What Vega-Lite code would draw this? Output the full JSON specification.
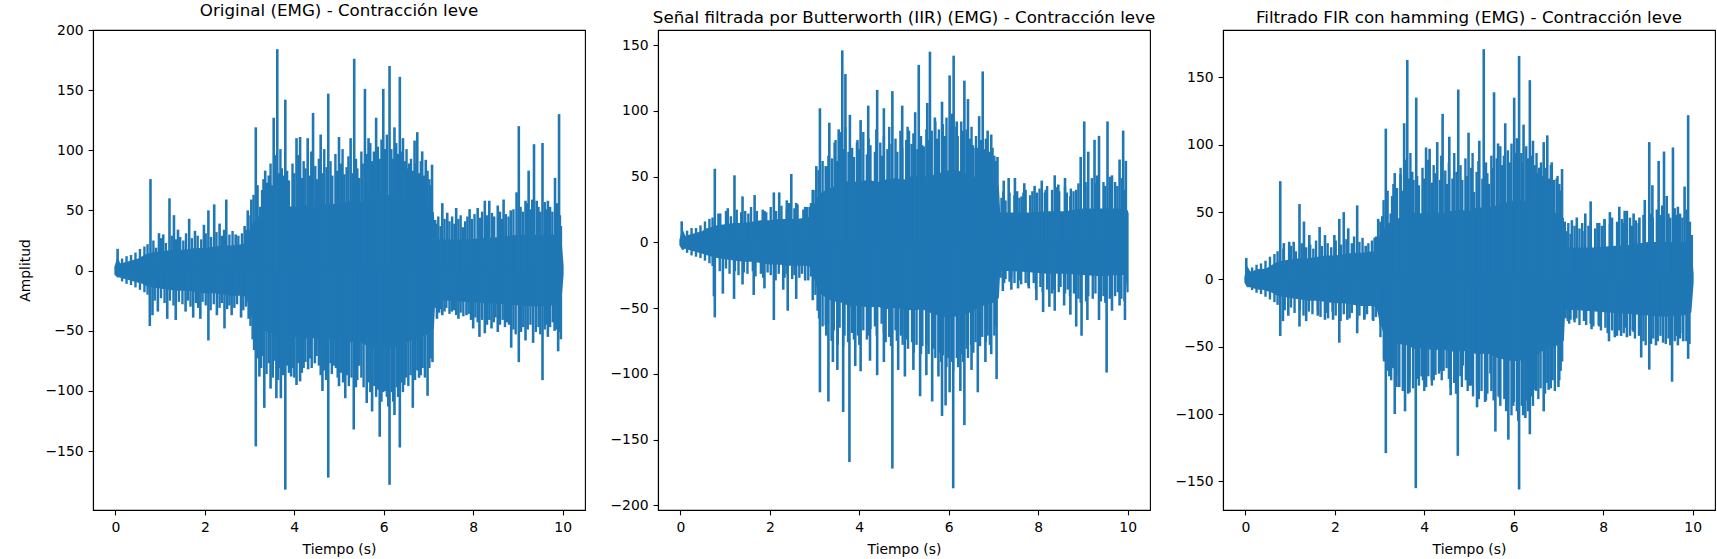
{
"$schema": "https://vega.github.io/schema/vega-lite/v6.json",
"padding": {"left": 18, "top": 2, "right": 0, "bottom": 0},
"bounds": "flush",
"spacing": 73,
"datasets": {
"c1": [{"t":0,"hi":3,"lo":-3},{"t":0.05,"hi":9,"lo":-5},{"t":0.1,"hi":5,"lo":-5},{"t":0.2,"hi":6,"lo":-6},{"t":0.3,"hi":7,"lo":-7},{"t":0.4,"hi":8,"lo":-8},{"t":0.5,"hi":9,"lo":-9},{"t":0.6,"hi":11,"lo":-10},{"t":0.7,"hi":13,"lo":-12},{"t":0.8,"hi":14,"lo":-13},{"t":1.0,"hi":15,"lo":-14},{"t":1.2,"hi":16,"lo":-15},{"t":1.4,"hi":16,"lo":-16},{"t":1.6,"hi":17,"lo":-16},{"t":1.8,"hi":18,"lo":-17},{"t":2.0,"hi":18,"lo":-18},{"t":2.2,"hi":19,"lo":-18},{"t":2.4,"hi":20,"lo":-19},{"t":2.6,"hi":20,"lo":-20},{"t":2.8,"hi":21,"lo":-20},{"t":2.95,"hi":22,"lo":-21},{"t":3.0,"hi":32,"lo":-30},{"t":3.1,"hi":40,"lo":-42},{"t":3.2,"hi":44,"lo":-46},{"t":3.4,"hi":47,"lo":-50},{"t":3.6,"hi":52,"lo":-52},{"t":3.8,"hi":53,"lo":-55},{"t":4.0,"hi":52,"lo":-54},{"t":4.2,"hi":54,"lo":-56},{"t":4.4,"hi":52,"lo":-55},{"t":4.6,"hi":54,"lo":-57},{"t":4.8,"hi":55,"lo":-56},{"t":5.0,"hi":54,"lo":-57},{"t":5.2,"hi":57,"lo":-59},{"t":5.4,"hi":56,"lo":-58},{"t":5.6,"hi":58,"lo":-61},{"t":5.8,"hi":60,"lo":-63},{"t":6.0,"hi":62,"lo":-65},{"t":6.2,"hi":62,"lo":-63},{"t":6.4,"hi":59,"lo":-62},{"t":6.6,"hi":56,"lo":-57},{"t":6.8,"hi":54,"lo":-54},{"t":7.0,"hi":52,"lo":-52},{"t":7.1,"hi":48,"lo":-48},{"t":7.13,"hi":25,"lo":-24},{"t":7.4,"hi":25,"lo":-24},{"t":7.8,"hi":25,"lo":-25},{"t":8.2,"hi":26,"lo":-26},{"t":8.6,"hi":27,"lo":-27},{"t":9.0,"hi":29,"lo":-28},{"t":9.4,"hi":29,"lo":-29},{"t":9.8,"hi":29,"lo":-28},{"t":9.95,"hi":27,"lo":-26},{"t":10.0,"hi":4,"lo":-3}],
"c2": [{"t":0,"hi":2,"lo":-2},{"t":0.05,"hi":8,"lo":-5},{"t":0.1,"hi":4,"lo":-4},{"t":0.2,"hi":5,"lo":-5},{"t":0.3,"hi":6,"lo":-6},{"t":0.4,"hi":7,"lo":-7},{"t":0.5,"hi":8,"lo":-8},{"t":0.6,"hi":10,"lo":-9},{"t":0.7,"hi":11,"lo":-10},{"t":0.8,"hi":12,"lo":-11},{"t":1.0,"hi":13,"lo":-12},{"t":1.2,"hi":14,"lo":-13},{"t":1.4,"hi":14,"lo":-14},{"t":1.6,"hi":15,"lo":-14},{"t":1.8,"hi":16,"lo":-15},{"t":2.0,"hi":16,"lo":-16},{"t":2.2,"hi":17,"lo":-16},{"t":2.4,"hi":17,"lo":-17},{"t":2.6,"hi":17,"lo":-17},{"t":2.8,"hi":18,"lo":-17},{"t":2.95,"hi":19,"lo":-18},{"t":3.0,"hi":28,"lo":-26},{"t":3.1,"hi":35,"lo":-37},{"t":3.2,"hi":38,"lo":-40},{"t":3.4,"hi":41,"lo":-44},{"t":3.6,"hi":45,"lo":-45},{"t":3.8,"hi":46,"lo":-48},{"t":4.0,"hi":45,"lo":-47},{"t":4.2,"hi":47,"lo":-49},{"t":4.4,"hi":45,"lo":-48},{"t":4.6,"hi":47,"lo":-50},{"t":4.8,"hi":48,"lo":-49},{"t":5.0,"hi":47,"lo":-50},{"t":5.2,"hi":50,"lo":-51},{"t":5.4,"hi":49,"lo":-50},{"t":5.6,"hi":50,"lo":-53},{"t":5.8,"hi":52,"lo":-55},{"t":6.0,"hi":54,"lo":-57},{"t":6.2,"hi":54,"lo":-55},{"t":6.4,"hi":51,"lo":-54},{"t":6.6,"hi":49,"lo":-50},{"t":6.8,"hi":47,"lo":-47},{"t":7.0,"hi":45,"lo":-45},{"t":7.1,"hi":42,"lo":-42},{"t":7.13,"hi":22,"lo":-21},{"t":7.4,"hi":22,"lo":-21},{"t":7.8,"hi":22,"lo":-22},{"t":8.2,"hi":23,"lo":-23},{"t":8.6,"hi":23,"lo":-23},{"t":9.0,"hi":25,"lo":-24},{"t":9.4,"hi":25,"lo":-25},{"t":9.8,"hi":25,"lo":-24},{"t":9.98,"hi":24,"lo":-24},{"t":10.0,"hi":22,"lo":-38}],
"c3": [{"t":0,"hi":2,"lo":-2},{"t":0.05,"hi":8,"lo":-5},{"t":0.1,"hi":5,"lo":-5},{"t":0.2,"hi":6,"lo":-6},{"t":0.3,"hi":7,"lo":-7},{"t":0.4,"hi":7,"lo":-7},{"t":0.5,"hi":8,"lo":-8},{"t":0.6,"hi":10,"lo":-9},{"t":0.7,"hi":12,"lo":-11},{"t":0.8,"hi":13,"lo":-12},{"t":1.0,"hi":14,"lo":-13},{"t":1.2,"hi":15,"lo":-14},{"t":1.4,"hi":15,"lo":-15},{"t":1.6,"hi":16,"lo":-15},{"t":1.8,"hi":17,"lo":-16},{"t":2.0,"hi":17,"lo":-17},{"t":2.2,"hi":18,"lo":-17},{"t":2.4,"hi":19,"lo":-18},{"t":2.6,"hi":19,"lo":-19},{"t":2.8,"hi":20,"lo":-19},{"t":2.95,"hi":20,"lo":-20},{"t":3.0,"hi":30,"lo":-28},{"t":3.1,"hi":37,"lo":-39},{"t":3.2,"hi":41,"lo":-43},{"t":3.4,"hi":44,"lo":-47},{"t":3.6,"hi":48,"lo":-48},{"t":3.8,"hi":49,"lo":-51},{"t":4.0,"hi":48,"lo":-50},{"t":4.2,"hi":50,"lo":-52},{"t":4.4,"hi":48,"lo":-51},{"t":4.6,"hi":50,"lo":-53},{"t":4.8,"hi":51,"lo":-52},{"t":5.0,"hi":50,"lo":-53},{"t":5.2,"hi":53,"lo":-55},{"t":5.4,"hi":52,"lo":-54},{"t":5.6,"hi":54,"lo":-57},{"t":5.8,"hi":56,"lo":-59},{"t":6.0,"hi":58,"lo":-60},{"t":6.2,"hi":58,"lo":-59},{"t":6.4,"hi":55,"lo":-58},{"t":6.6,"hi":52,"lo":-53},{"t":6.8,"hi":50,"lo":-50},{"t":7.0,"hi":48,"lo":-48},{"t":7.1,"hi":45,"lo":-45},{"t":7.13,"hi":23,"lo":-22},{"t":7.4,"hi":23,"lo":-22},{"t":7.8,"hi":23,"lo":-23},{"t":8.2,"hi":24,"lo":-24},{"t":8.6,"hi":25,"lo":-25},{"t":9.0,"hi":27,"lo":-26},{"t":9.4,"hi":27,"lo":-27},{"t":9.8,"hi":27,"lo":-26},{"t":9.95,"hi":25,"lo":-24},{"t":10.0,"hi":4,"lo":-2}],
"s1": [{"t":0.05,"v":17},{"t":0.785,"v":75},{"t":0.91,"v":18},{"t":0.975,"v":30},{"t":1.07,"v":29},{"t":1.21,"v":59},{"t":1.31,"v":45},{"t":1.4,"v":33},{"t":1.65,"v":42},{"t":1.78,"v":32},{"t":1.98,"v":37},{"t":2.08,"v":49},{"t":2.21,"v":54},{"t":2.33,"v":38},{"t":2.48,"v":58},{"t":2.69,"v":29},{"t":2.89,"v":36},{"t":2.96,"v":49},{"t":3.04,"v":58},{"t":3.14,"v":118},{"t":3.24,"v":52},{"t":3.35,"v":82},{"t":3.43,"v":78},{"t":3.54,"v":126},{"t":3.62,"v":183},{"t":3.72,"v":84},{"t":3.8,"v":141},{"t":4.05,"v":109},{"t":4.13,"v":110},{"t":4.3,"v":109},{"t":4.42,"v":130},{"t":4.59,"v":112},{"t":4.76,"v":146},{"t":5.0,"v":110},{"t":5.12,"v":79},{"t":5.26,"v":109},{"t":5.34,"v":175},{"t":5.45,"v":76},{"t":5.58,"v":150},{"t":5.66,"v":109},{"t":5.83,"v":126},{"t":5.99,"v":150},{"t":6.13,"v":169},{"t":6.24,"v":118},{"t":6.36,"v":160},{"t":6.43,"v":109},{"t":6.57,"v":88},{"t":6.69,"v":107},{"t":6.75,"v":114},{"t":6.86,"v":98},{"t":6.94,"v":91},{"t":7.08,"v":87},{"t":7.15,"v":41},{"t":7.31,"v":55},{"t":7.42,"v":47},{"t":7.62,"v":51},{"t":7.77,"v":35},{"t":7.92,"v":50},{"t":8.1,"v":51},{"t":8.26,"v":57},{"t":8.36,"v":57},{"t":8.55,"v":53},{"t":8.68,"v":58},{"t":8.84,"v":49},{"t":8.97,"v":64},{"t":9.02,"v":119},{"t":9.17,"v":57},{"t":9.24,"v":82},{"t":9.36,"v":104},{"t":9.42,"v":57},{"t":9.55,"v":105},{"t":9.67,"v":57},{"t":9.83,"v":76},{"t":9.92,"v":129},{"t":9.96,"v":36},
{"t":0.77,"v":-45},{"t":0.83,"v":-36},{"t":0.95,"v":-33},{"t":1.16,"v":-39},{"t":1.35,"v":-40},{"t":1.57,"v":-33},{"t":1.74,"v":-38},{"t":1.9,"v":-39},{"t":2.08,"v":-57},{"t":2.27,"v":-36},{"t":2.44,"v":-47},{"t":2.6,"v":-36},{"t":2.81,"v":-38},{"t":2.98,"v":-39},{"t":3.07,"v":-56},{"t":3.14,"v":-145},{"t":3.22,"v":-87},{"t":3.33,"v":-113},{"t":3.47,"v":-97},{"t":3.6,"v":-105},{"t":3.7,"v":-105},{"t":3.8,"v":-181},{"t":3.93,"v":-87},{"t":4.05,"v":-94},{"t":4.13,"v":-91},{"t":4.31,"v":-81},{"t":4.46,"v":-76},{"t":4.63,"v":-99},{"t":4.76,"v":-171},{"t":4.88,"v":-78},{"t":5.0,"v":-95},{"t":5.14,"v":-105},{"t":5.33,"v":-131},{"t":5.45,"v":-78},{"t":5.62,"v":-109},{"t":5.74,"v":-116},{"t":5.91,"v":-137},{"t":6.03,"v":-99},{"t":6.13,"v":-177},{"t":6.24,"v":-119},{"t":6.36,"v":-146},{"t":6.46,"v":-94},{"t":6.65,"v":-113},{"t":6.79,"v":-88},{"t":6.98,"v":-103},{"t":7.09,"v":-75},{"t":7.19,"v":-39},{"t":7.31,"v":-36},{"t":7.52,"v":-33},{"t":7.67,"v":-39},{"t":7.85,"v":-36},{"t":8.0,"v":-47},{"t":8.14,"v":-54},{"t":8.26,"v":-51},{"t":8.41,"v":-47},{"t":8.55,"v":-50},{"t":8.76,"v":-42},{"t":8.85,"v":-63},{"t":9.02,"v":-75},{"t":9.17,"v":-57},{"t":9.34,"v":-59},{"t":9.55,"v":-90},{"t":9.67,"v":-54},{"t":9.82,"v":-49},{"t":9.9,"v":-66},{"t":9.96,"v":-56}],
"s2": [{"t":0.03,"v":15},{"t":0.77,"v":55},{"t":0.89,"v":21},{"t":1.06,"v":25},{"t":1.21,"v":50},{"t":1.39,"v":34},{"t":1.66,"v":35},{"t":1.88,"v":23},{"t":2.09,"v":37},{"t":2.21,"v":37},{"t":2.38,"v":31},{"t":2.48,"v":51},{"t":2.59,"v":29},{"t":2.79,"v":26},{"t":2.89,"v":26},{"t":2.96,"v":39},{"t":3.04,"v":57},{"t":3.12,"v":101},{"t":3.25,"v":57},{"t":3.33,"v":90},{"t":3.45,"v":75},{"t":3.54,"v":85},{"t":3.62,"v":145},{"t":3.69,"v":127},{"t":3.79,"v":96},{"t":3.95,"v":75},{"t":4.03,"v":92},{"t":4.2,"v":103},{"t":4.4,"v":115},{"t":4.55,"v":101},{"t":4.74,"v":114},{"t":4.96,"v":103},{"t":5.11,"v":84},{"t":5.25,"v":98},{"t":5.33,"v":134},{"t":5.44,"v":72},{"t":5.52,"v":105},{"t":5.58,"v":144},{"t":5.69,"v":94},{"t":5.85,"v":106},{"t":6.02,"v":126},{"t":6.11,"v":141},{"t":6.18,"v":91},{"t":6.35,"v":122},{"t":6.43,"v":108},{"t":6.6,"v":71},{"t":6.68,"v":95},{"t":6.76,"v":129},{"t":6.87,"v":84},{"t":6.95,"v":81},{"t":7.09,"v":64},{"t":7.23,"v":46},{"t":7.34,"v":48},{"t":7.48,"v":48},{"t":7.63,"v":34},{"t":7.69,"v":44},{"t":7.92,"v":42},{"t":8.08,"v":46},{"t":8.17,"v":39},{"t":8.37,"v":50},{"t":8.45,"v":43},{"t":8.6,"v":48},{"t":8.72,"v":34},{"t":8.85,"v":39},{"t":8.95,"v":64},{"t":9.03,"v":91},{"t":9.12,"v":68},{"t":9.26,"v":77},{"t":9.36,"v":80},{"t":9.55,"v":91},{"t":9.65,"v":50},{"t":9.82,"v":62},{"t":9.9,"v":84},{"t":9.96,"v":61},
{"t":0.75,"v":-40},{"t":0.77,"v":-56},{"t":0.95,"v":-38},{"t":1.2,"v":-42},{"t":1.39,"v":-31},{"t":1.64,"v":-39},{"t":1.88,"v":-34},{"t":2.09,"v":-58},{"t":2.3,"v":-35},{"t":2.4,"v":-51},{"t":2.59,"v":-42},{"t":2.79,"v":-28},{"t":2.96,"v":-43},{"t":3.07,"v":-51},{"t":3.12,"v":-113},{"t":3.25,"v":-62},{"t":3.31,"v":-120},{"t":3.41,"v":-90},{"t":3.51,"v":-96},{"t":3.64,"v":-128},{"t":3.78,"v":-166},{"t":3.91,"v":-93},{"t":4.03,"v":-97},{"t":4.24,"v":-89},{"t":4.4,"v":-100},{"t":4.55,"v":-90},{"t":4.74,"v":-171},{"t":4.87,"v":-96},{"t":5.02,"v":-101},{"t":5.21,"v":-96},{"t":5.36,"v":-116},{"t":5.5,"v":-100},{"t":5.63,"v":-120},{"t":5.77,"v":-101},{"t":5.85,"v":-131},{"t":5.93,"v":-123},{"t":6.02,"v":-113},{"t":6.1,"v":-186},{"t":6.26,"v":-112},{"t":6.35,"v":-138},{"t":6.51,"v":-96},{"t":6.65,"v":-113},{"t":6.82,"v":-90},{"t":6.95,"v":-84},{"t":7.07,"v":-103},{"t":7.21,"v":-36},{"t":7.4,"v":-35},{"t":7.55,"v":-34},{"t":7.79,"v":-34},{"t":7.96,"v":-43},{"t":8.11,"v":-52},{"t":8.25,"v":-48},{"t":8.37,"v":-51},{"t":8.58,"v":-47},{"t":8.72,"v":-54},{"t":8.85,"v":-63},{"t":8.97,"v":-70},{"t":9.1,"v":-58},{"t":9.36,"v":-58},{"t":9.53,"v":-98},{"t":9.65,"v":-51},{"t":9.82,"v":-47},{"t":9.94,"v":-58}],
"s3": [{"t":0.02,"v":15},{"t":0.78,"v":72},{"t":0.86,"v":26},{"t":0.98,"v":27},{"t":1.08,"v":27},{"t":1.21,"v":55},{"t":1.31,"v":42},{"t":1.43,"v":32},{"t":1.66,"v":38},{"t":1.78,"v":32},{"t":1.99,"v":32},{"t":2.1,"v":44},{"t":2.2,"v":49},{"t":2.3,"v":37},{"t":2.5,"v":54},{"t":2.69,"v":24},{"t":2.89,"v":30},{"t":2.97,"v":44},{"t":3.06,"v":46},{"t":3.14,"v":111},{"t":3.25,"v":48},{"t":3.34,"v":78},{"t":3.47,"v":77},{"t":3.55,"v":115},{"t":3.62,"v":162},{"t":3.73,"v":79},{"t":3.82,"v":134},{"t":4.04,"v":97},{"t":4.12,"v":96},{"t":4.29,"v":101},{"t":4.41,"v":122},{"t":4.56,"v":105},{"t":4.76,"v":140},{"t":4.99,"v":108},{"t":5.11,"v":64},{"t":5.23,"v":102},{"t":5.33,"v":170},{"t":5.44,"v":70},{"t":5.56,"v":138},{"t":5.65,"v":100},{"t":5.81,"v":115},{"t":6.01,"v":134},{"t":6.12,"v":165},{"t":6.22,"v":114},{"t":6.36,"v":147},{"t":6.43,"v":102},{"t":6.57,"v":82},{"t":6.67,"v":101},{"t":6.75,"v":106},{"t":6.85,"v":86},{"t":6.96,"v":74},{"t":7.08,"v":81},{"t":7.14,"v":42},{"t":7.3,"v":43},{"t":7.41,"v":45},{"t":7.6,"v":48},{"t":7.72,"v":57},{"t":7.91,"v":41},{"t":8.03,"v":44},{"t":8.15,"v":49},{"t":8.36,"v":53},{"t":8.48,"v":50},{"t":8.53,"v":50},{"t":8.68,"v":48},{"t":8.81,"v":45},{"t":8.93,"v":58},{"t":9.03,"v":101},{"t":9.1,"v":69},{"t":9.24,"v":87},{"t":9.36,"v":94},{"t":9.42,"v":61},{"t":9.56,"v":97},{"t":9.67,"v":53},{"t":9.82,"v":68},{"t":9.9,"v":121},{"t":9.98,"v":32},
{"t":0.78,"v":-41},{"t":0.84,"v":-30},{"t":0.96,"v":-26},{"t":1.21,"v":-34},{"t":1.36,"v":-30},{"t":1.62,"v":-26},{"t":1.78,"v":-29},{"t":1.96,"v":-29},{"t":2.1,"v":-46},{"t":2.28,"v":-29},{"t":2.5,"v":-39},{"t":2.66,"v":-29},{"t":2.85,"v":-29},{"t":3.02,"v":-32},{"t":3.1,"v":-58},{"t":3.14,"v":-128},{"t":3.22,"v":-71},{"t":3.34,"v":-99},{"t":3.44,"v":-79},{"t":3.57,"v":-97},{"t":3.67,"v":-83},{"t":3.81,"v":-154},{"t":3.94,"v":-71},{"t":4.04,"v":-79},{"t":4.17,"v":-74},{"t":4.33,"v":-69},{"t":4.43,"v":-67},{"t":4.59,"v":-85},{"t":4.75,"v":-130},{"t":4.86,"v":-63},{"t":5.0,"v":-78},{"t":5.18,"v":-94},{"t":5.36,"v":-90},{"t":5.48,"v":-69},{"t":5.59,"v":-112},{"t":5.69,"v":-87},{"t":5.88,"v":-118},{"t":6.0,"v":-90},{"t":6.12,"v":-155},{"t":6.26,"v":-102},{"t":6.36,"v":-114},{"t":6.47,"v":-81},{"t":6.67,"v":-97},{"t":6.78,"v":-81},{"t":7.0,"v":-79},{"t":7.08,"v":-60},{"t":7.21,"v":-30},{"t":7.35,"v":-29},{"t":7.58,"v":-29},{"t":7.74,"v":-36},{"t":7.91,"v":-34},{"t":8.13,"v":-45},{"t":8.26,"v":-42},{"t":8.4,"v":-41},{"t":8.53,"v":-42},{"t":8.68,"v":-38},{"t":8.85,"v":-57},{"t":9.03,"v":-66},{"t":9.18,"v":-48},{"t":9.34,"v":-46},{"t":9.54,"v":-75},{"t":9.67,"v":-48},{"t":9.79,"v":-45},{"t":9.9,"v":-58}],
"f": [{"t":0.15,"a":9,"b":8,"c":8},{"t":0.25,"a":11,"b":10,"c":10},{"t":0.35,"a":12,"b":10,"c":11},{"t":0.45,"a":14,"b":12,"c":13},{"t":0.55,"a":17,"b":15,"c":16},{"t":0.65,"a":19,"b":17,"c":18},{"t":0.72,"a":21,"b":18,"c":20},{"t":0.85,"a":24,"b":21,"c":22},{"t":1.02,"a":26,"b":23,"c":24},{"t":1.13,"a":22,"b":19,"c":20},{"t":1.26,"a":28,"b":24,"c":26},{"t":1.36,"a":25,"b":22,"c":23},{"t":1.45,"a":27,"b":23,"c":25},{"t":1.52,"a":24,"b":21,"c":22},{"t":1.58,"a":30,"b":26,"c":28},{"t":1.71,"a":26,"b":23,"c":24},{"t":1.84,"a":28,"b":24,"c":26},{"t":1.92,"a":25,"b":22,"c":23},{"t":2.02,"a":30,"b":26,"c":28},{"t":2.14,"a":27,"b":23,"c":25},{"t":2.26,"a":31,"b":27,"c":29},{"t":2.38,"a":28,"b":24,"c":26},{"t":2.43,"a":33,"b":29,"c":31},{"t":2.55,"a":29,"b":25,"c":27},{"t":2.62,"a":32,"b":28,"c":30},{"t":2.75,"a":28,"b":24,"c":26},{"t":2.83,"a":30,"b":26,"c":28},{"t":2.92,"a":33,"b":29,"c":31},{"t":3.02,"a":45,"b":39,"c":42},{"t":3.09,"a":62,"b":54,"c":58},{"t":3.18,"a":70,"b":61,"c":65},{"t":3.28,"a":66,"b":57,"c":61},{"t":3.31,"a":75,"b":65,"c":70},{"t":3.39,"a":72,"b":63,"c":67},{"t":3.47,"a":88,"b":77,"c":82},{"t":3.5,"a":70,"b":61,"c":65},{"t":3.58,"a":95,"b":83,"c":88},{"t":3.66,"a":80,"b":70,"c":74},{"t":3.69,"a":100,"b":87,"c":93},{"t":3.76,"a":78,"b":68,"c":73},{"t":3.84,"a":82,"b":71,"c":76},{"t":3.88,"a":74,"b":64,"c":69},{"t":3.96,"a":88,"b":77,"c":82},{"t":4.0,"a":80,"b":70,"c":74},{"t":4.09,"a":95,"b":83,"c":88},{"t":4.17,"a":76,"b":66,"c":71},{"t":4.21,"a":90,"b":78,"c":84},{"t":4.25,"a":84,"b":73,"c":78},{"t":4.35,"a":78,"b":68,"c":73},{"t":4.38,"a":98,"b":85,"c":91},{"t":4.47,"a":86,"b":75,"c":80},{"t":4.51,"a":75,"b":65,"c":70},{"t":4.55,"a":92,"b":80,"c":86},{"t":4.63,"a":80,"b":70,"c":74},{"t":4.67,"a":100,"b":87,"c":93},{"t":4.72,"a":85,"b":74,"c":79},{"t":4.81,"a":90,"b":78,"c":84},{"t":4.85,"a":78,"b":68,"c":73},{"t":4.92,"a":96,"b":84,"c":89},{"t":4.96,"a":82,"b":71,"c":76},{"t":5.05,"a":88,"b":77,"c":82},{"t":5.08,"a":100,"b":87,"c":93},{"t":5.17,"a":85,"b":74,"c":79},{"t":5.21,"a":94,"b":82,"c":87},{"t":5.3,"a":80,"b":70,"c":74},{"t":5.38,"a":92,"b":80,"c":86},{"t":5.41,"a":84,"b":73,"c":78},{"t":5.5,"a":98,"b":85,"c":91},{"t":5.53,"a":88,"b":77,"c":82},{"t":5.62,"a":96,"b":84,"c":89},{"t":5.7,"a":105,"b":91,"c":98},{"t":5.74,"a":90,"b":78,"c":84},{"t":5.78,"a":98,"b":85,"c":91},{"t":5.87,"a":102,"b":89,"c":95},{"t":5.91,"a":92,"b":80,"c":86},{"t":5.95,"a":108,"b":94,"c":100},{"t":6.03,"a":100,"b":87,"c":93},{"t":6.07,"a":112,"b":97,"c":104},{"t":6.17,"a":100,"b":87,"c":93},{"t":6.2,"a":92,"b":80,"c":86},{"t":6.28,"a":105,"b":91,"c":98},{"t":6.32,"a":96,"b":84,"c":89},{"t":6.4,"a":98,"b":85,"c":91},{"t":6.47,"a":90,"b":78,"c":84},{"t":6.51,"a":100,"b":87,"c":93},{"t":6.54,"a":84,"b":73,"c":78},{"t":6.61,"a":92,"b":80,"c":86},{"t":6.65,"a":82,"b":71,"c":76},{"t":6.72,"a":88,"b":77,"c":82},{"t":6.79,"a":80,"b":70,"c":74},{"t":6.83,"a":90,"b":78,"c":84},{"t":6.9,"a":78,"b":68,"c":73},{"t":6.98,"a":82,"b":71,"c":76},{"t":7.02,"a":75,"b":65,"c":70},{"t":7.05,"a":70,"b":61,"c":65},{"t":7.18,"a":38,"b":33,"c":35},{"t":7.22,"a":44,"b":38,"c":41},{"t":7.27,"a":36,"b":31,"c":33},{"t":7.36,"a":42,"b":37,"c":39},{"t":7.47,"a":40,"b":35,"c":37},{"t":7.53,"a":44,"b":38,"c":41},{"t":7.58,"a":38,"b":33,"c":35},{"t":7.67,"a":42,"b":37,"c":39},{"t":7.72,"a":45,"b":39,"c":42},{"t":7.82,"a":40,"b":35,"c":37},{"t":7.87,"a":44,"b":38,"c":41},{"t":7.97,"a":42,"b":37,"c":39},{"t":8.03,"a":46,"b":40,"c":43},{"t":8.15,"a":43,"b":37,"c":40},{"t":8.2,"a":48,"b":42,"c":45},{"t":8.31,"a":45,"b":39,"c":42},{"t":8.42,"a":47,"b":41,"c":44},{"t":8.47,"a":44,"b":38,"c":41},{"t":8.6,"a":48,"b":42,"c":45},{"t":8.64,"a":42,"b":37,"c":39},{"t":8.73,"a":46,"b":40,"c":43},{"t":8.79,"a":44,"b":38,"c":41},{"t":8.9,"a":50,"b":44,"c":47},{"t":9.06,"a":52,"b":45,"c":48},{"t":9.11,"a":48,"b":42,"c":45},{"t":9.2,"a":55,"b":48,"c":51},{"t":9.28,"a":50,"b":44,"c":47},{"t":9.32,"a":58,"b":50,"c":54},{"t":9.46,"a":52,"b":45,"c":48},{"t":9.5,"a":48,"b":42,"c":45},{"t":9.6,"a":56,"b":49,"c":52},{"t":9.63,"a":50,"b":44,"c":47},{"t":9.72,"a":52,"b":45,"c":48},{"t":9.77,"a":48,"b":42,"c":45},{"t":9.87,"a":55,"b":48,"c":51},{"t":9.94,"a":45,"b":39,"c":42},
{"t":0.15,"a":-8,"b":-7,"c":-7},{"t":0.25,"a":-10,"b":-9,"c":-9},{"t":0.35,"a":-11,"b":-10,"c":-10},{"t":0.45,"a":-13,"b":-11,"c":-12},{"t":0.55,"a":-15,"b":-13,"c":-14},{"t":0.65,"a":-17,"b":-15,"c":-16},{"t":0.72,"a":-19,"b":-17,"c":-18},{"t":0.88,"a":-24,"b":-21,"c":-22},{"t":1.02,"a":-22,"b":-19,"c":-20},{"t":1.1,"a":-26,"b":-23,"c":-24},{"t":1.22,"a":-24,"b":-21,"c":-22},{"t":1.3,"a":-28,"b":-24,"c":-26},{"t":1.42,"a":-25,"b":-22,"c":-23},{"t":1.5,"a":-27,"b":-23,"c":-25},{"t":1.62,"a":-24,"b":-21,"c":-22},{"t":1.68,"a":-29,"b":-25,"c":-27},{"t":1.8,"a":-26,"b":-23,"c":-24},{"t":1.85,"a":-30,"b":-26,"c":-28},{"t":1.95,"a":-25,"b":-22,"c":-23},{"t":2.02,"a":-28,"b":-24,"c":-26},{"t":2.13,"a":-32,"b":-28,"c":-30},{"t":2.2,"a":-27,"b":-23,"c":-25},{"t":2.33,"a":-30,"b":-26,"c":-28},{"t":2.38,"a":-26,"b":-23,"c":-24},{"t":2.5,"a":-31,"b":-27,"c":-29},{"t":2.55,"a":-28,"b":-24,"c":-26},{"t":2.66,"a":-30,"b":-26,"c":-28},{"t":2.72,"a":-27,"b":-23,"c":-25},{"t":2.86,"a":-32,"b":-28,"c":-30},{"t":2.92,"a":-29,"b":-25,"c":-27},{"t":3.02,"a":-45,"b":-39,"c":-42},{"t":3.1,"a":-65,"b":-57,"c":-60},{"t":3.18,"a":-72,"b":-63,"c":-67},{"t":3.26,"a":-80,"b":-70,"c":-74},{"t":3.3,"a":-70,"b":-61,"c":-65},{"t":3.38,"a":-85,"b":-74,"c":-79},{"t":3.43,"a":-76,"b":-66,"c":-71},{"t":3.52,"a":-88,"b":-77,"c":-82},{"t":3.56,"a":-74,"b":-64,"c":-69},{"t":3.64,"a":-90,"b":-78,"c":-84},{"t":3.67,"a":-80,"b":-70,"c":-74},{"t":3.75,"a":-86,"b":-75,"c":-80},{"t":3.84,"a":-78,"b":-68,"c":-73},{"t":3.88,"a":-84,"b":-73,"c":-78},{"t":3.97,"a":-80,"b":-70,"c":-74},{"t":4.0,"a":-88,"b":-77,"c":-82},{"t":4.09,"a":-76,"b":-66,"c":-71},{"t":4.17,"a":-84,"b":-73,"c":-78},{"t":4.21,"a":-80,"b":-70,"c":-74},{"t":4.25,"a":-75,"b":-65,"c":-70},{"t":4.35,"a":-72,"b":-63,"c":-67},{"t":4.39,"a":-80,"b":-70,"c":-74},{"t":4.5,"a":-70,"b":-61,"c":-65},{"t":4.55,"a":-78,"b":-68,"c":-73},{"t":4.59,"a":-86,"b":-75,"c":-80},{"t":4.67,"a":-82,"b":-71,"c":-76},{"t":4.71,"a":-90,"b":-78,"c":-84},{"t":4.81,"a":-76,"b":-66,"c":-71},{"t":4.84,"a":-85,"b":-74,"c":-79},{"t":4.93,"a":-80,"b":-70,"c":-74},{"t":4.97,"a":-88,"b":-77,"c":-82},{"t":5.05,"a":-84,"b":-73,"c":-78},{"t":5.09,"a":-92,"b":-80,"c":-86},{"t":5.18,"a":-86,"b":-75,"c":-80},{"t":5.22,"a":-95,"b":-83,"c":-88},{"t":5.28,"a":-88,"b":-77,"c":-82},{"t":5.38,"a":-96,"b":-84,"c":-89},{"t":5.41,"a":-90,"b":-78,"c":-84},{"t":5.5,"a":-88,"b":-77,"c":-82},{"t":5.55,"a":-96,"b":-84,"c":-89},{"t":5.66,"a":-92,"b":-80,"c":-86},{"t":5.7,"a":-100,"b":-87,"c":-93},{"t":5.79,"a":-95,"b":-83,"c":-88},{"t":5.83,"a":-104,"b":-90,"c":-97},{"t":5.87,"a":-98,"b":-85,"c":-91},{"t":5.95,"a":-108,"b":-94,"c":-100},{"t":5.99,"a":-100,"b":-87,"c":-93},{"t":6.07,"a":-104,"b":-90,"c":-97},{"t":6.1,"a":-112,"b":-97,"c":-104},{"t":6.18,"a":-100,"b":-87,"c":-93},{"t":6.21,"a":-108,"b":-94,"c":-100},{"t":6.29,"a":-96,"b":-84,"c":-89},{"t":6.32,"a":-104,"b":-90,"c":-97},{"t":6.4,"a":-92,"b":-80,"c":-86},{"t":6.43,"a":-100,"b":-87,"c":-93},{"t":6.5,"a":-88,"b":-77,"c":-82},{"t":6.55,"a":-95,"b":-83,"c":-88},{"t":6.6,"a":-86,"b":-75,"c":-80},{"t":6.7,"a":-90,"b":-78,"c":-84},{"t":6.75,"a":-82,"b":-71,"c":-76},{"t":6.83,"a":-86,"b":-75,"c":-80},{"t":6.87,"a":-80,"b":-70,"c":-74},{"t":6.92,"a":-88,"b":-77,"c":-82},{"t":7.02,"a":-80,"b":-70,"c":-74},{"t":7.05,"a":-72,"b":-63,"c":-67},{"t":7.16,"a":-30,"b":-26,"c":-28},{"t":7.24,"a":-34,"b":-30,"c":-32},{"t":7.27,"a":-31,"b":-27,"c":-29},{"t":7.36,"a":-33,"b":-29,"c":-31},{"t":7.4,"a":-30,"b":-26,"c":-28},{"t":7.47,"a":-35,"b":-30,"c":-33},{"t":7.57,"a":-32,"b":-28,"c":-30},{"t":7.62,"a":-36,"b":-31,"c":-33},{"t":7.72,"a":-34,"b":-30,"c":-32},{"t":7.78,"a":-37,"b":-32,"c":-34},{"t":7.9,"a":-35,"b":-30,"c":-33},{"t":7.95,"a":-40,"b":-35,"c":-37},{"t":8.05,"a":-38,"b":-33,"c":-35},{"t":8.1,"a":-42,"b":-37,"c":-39},{"t":8.2,"a":-40,"b":-35,"c":-37},{"t":8.31,"a":-44,"b":-38,"c":-41},{"t":8.36,"a":-40,"b":-35,"c":-37},{"t":8.46,"a":-42,"b":-37,"c":-39},{"t":8.5,"a":-38,"b":-33,"c":-35},{"t":8.6,"a":-44,"b":-38,"c":-41},{"t":8.66,"a":-40,"b":-35,"c":-37},{"t":8.71,"a":-46,"b":-40,"c":-43},{"t":8.8,"a":-44,"b":-38,"c":-41},{"t":8.9,"a":-48,"b":-42,"c":-45},{"t":8.95,"a":-52,"b":-45,"c":-48},{"t":9.07,"a":-50,"b":-44,"c":-47},{"t":9.12,"a":-46,"b":-40,"c":-43},{"t":9.22,"a":-48,"b":-42,"c":-45},{"t":9.28,"a":-44,"b":-38,"c":-41},{"t":9.4,"a":-50,"b":-44,"c":-47},{"t":9.46,"a":-46,"b":-40,"c":-43},{"t":9.5,"a":-52,"b":-45,"c":-48},{"t":9.6,"a":-48,"b":-42,"c":-45},{"t":9.63,"a":-44,"b":-38,"c":-41},{"t":9.72,"a":-46,"b":-40,"c":-43},{"t":9.78,"a":-42,"b":-37,"c":-39},{"t":9.86,"a":-48,"b":-42,"c":-45},{"t":9.93,"a":-50,"b":-44,"c":-47}]
},
"hconcat": [
{
"width": 492, "height": 480,
"title": "Original (EMG) - Contracción leve",
"layer": [
{"data": {"name": "c1"}, "mark": {"type": "area", "color": "#1f77b4", "opacity": 1, "stroke": "#1f77b4", "strokeWidth": 2, "clip": true},
 "encoding": {
  "x": {"field": "t", "type": "quantitative", "scale": {"domain": [-0.5, 10.5], "nice": false, "zero": false}, "axis": {"values": [0,2,4,6,8,10], "title": "Tiempo (s)"}},
  "y": {"field": "hi", "type": "quantitative", "scale": {"domain": [-199, 200], "nice": false, "zero": false}, "axis": {"values": [-150,-100,-50,0,50,100,150,200], "title": "Amplitud"}},
  "y2": {"field": "lo"}}},
{"data": {"name": "f"}, "mark": {"type": "rule", "color": "#1f77b4", "strokeWidth": 2.4, "strokeCap": "square", "clip": true},
 "encoding": {
  "x": {"field": "t", "type": "quantitative", "title": "Tiempo (s)"},
  "y": {"field": "a", "type": "quantitative", "title": "Amplitud"},
  "y2": {"datum": 0}}},
{"data": {"name": "s1"}, "mark": {"type": "rule", "color": "#1f77b4", "strokeWidth": 2.6, "strokeCap": "square", "clip": true},
 "encoding": {
  "x": {"field": "t", "type": "quantitative", "title": "Tiempo (s)"},
  "y": {"field": "v", "type": "quantitative", "title": "Amplitud"},
  "y2": {"datum": 0}}}
]
},
{
"width": 492, "height": 480,
"title": "Señal filtrada por Butterworth (IIR) (EMG) - Contracción leve",
"layer": [
{"data": {"name": "c2"}, "mark": {"type": "area", "color": "#1f77b4", "opacity": 1, "stroke": "#1f77b4", "strokeWidth": 2, "clip": true},
 "encoding": {
  "x": {"field": "t", "type": "quantitative", "scale": {"domain": [-0.5, 10.5], "nice": false, "zero": false}, "axis": {"values": [0,2,4,6,8,10], "title": "Tiempo (s)"}},
  "y": {"field": "hi", "type": "quantitative", "scale": {"domain": [-203.5, 161.5], "nice": false, "zero": false}, "axis": {"values": [-200,-150,-100,-50,0,50,100,150], "title": null}},
  "y2": {"field": "lo"}}},
{"data": {"name": "f"}, "mark": {"type": "rule", "color": "#1f77b4", "strokeWidth": 2.4, "strokeCap": "square", "clip": true},
 "encoding": {
  "x": {"field": "t", "type": "quantitative", "title": "Tiempo (s)"},
  "y": {"field": "b", "type": "quantitative", "title": null},
  "y2": {"datum": 0}}},
{"data": {"name": "s2"}, "mark": {"type": "rule", "color": "#1f77b4", "strokeWidth": 2.6, "strokeCap": "square", "clip": true},
 "encoding": {
  "x": {"field": "t", "type": "quantitative", "title": "Tiempo (s)"},
  "y": {"field": "v", "type": "quantitative", "title": null},
  "y2": {"datum": 0}}}
]
},
{
"width": 492, "height": 480,
"title": "Filtrado FIR con hamming (EMG) - Contracción leve",
"layer": [
{"data": {"name": "c3"}, "mark": {"type": "area", "color": "#1f77b4", "opacity": 1, "stroke": "#1f77b4", "strokeWidth": 2, "clip": true},
 "encoding": {
  "x": {"field": "t", "type": "quantitative", "scale": {"domain": [-0.5, 10.5], "nice": false, "zero": false}, "axis": {"values": [0,2,4,6,8,10], "title": "Tiempo (s)"}},
  "y": {"field": "hi", "type": "quantitative", "scale": {"domain": [-171.2, 185.2], "nice": false, "zero": false}, "axis": {"values": [-150,-100,-50,0,50,100,150], "title": null}},
  "y2": {"field": "lo"}}},
{"data": {"name": "f"}, "mark": {"type": "rule", "color": "#1f77b4", "strokeWidth": 2.4, "strokeCap": "square", "clip": true},
 "encoding": {
  "x": {"field": "t", "type": "quantitative", "title": "Tiempo (s)"},
  "y": {"field": "c", "type": "quantitative", "title": null},
  "y2": {"datum": 0}}},
{"data": {"name": "s3"}, "mark": {"type": "rule", "color": "#1f77b4", "strokeWidth": 2.6, "strokeCap": "square", "clip": true},
 "encoding": {
  "x": {"field": "t", "type": "quantitative", "title": "Tiempo (s)"},
  "y": {"field": "v", "type": "quantitative", "title": null},
  "y2": {"datum": 0}}}
]
}
],
"config": {
 "font": "DejaVu Sans",
 "background": "white",
 "view": {"stroke": "black", "strokeWidth": 1.1},
 "axis": {"domainColor": "black", "domainWidth": 1.1, "tickColor": "black", "tickWidth": 1.1, "tickSize": 4.9, "labelColor": "black", "labelFontSize": 13.9, "labelFont": "DejaVu Sans", "labelPadding": 5, "titleColor": "black", "titleFont": "DejaVu Sans", "titleFontSize": 13.9, "titleFontWeight": "normal", "grid": false, "labelFlush": false, "labelOverlap": false, "format": "d"},
 "axisX": {"titlePadding": 8, "labelPadding": 6},
 "axisY": {"titlePadding": 12},
 "title": {"font": "DejaVu Sans", "fontSize": 16.7, "fontWeight": "normal", "color": "black", "anchor": "middle", "frame": "group", "offset": 3}
}
}
